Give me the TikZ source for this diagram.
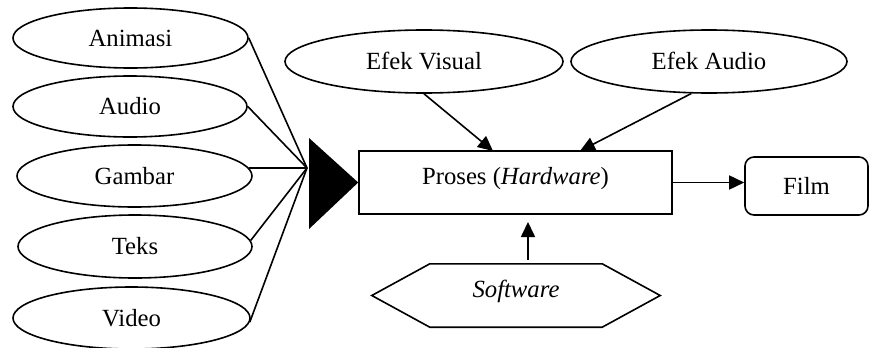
\documentclass[tikz,border=0pt]{standalone}
\usepackage{fontspec}
\setmainfont{Liberation Serif}
\usetikzlibrary{shapes.geometric,arrows.meta,calc}
\begin{document}
\begin{tikzpicture}[x=1pt,y=-1pt,
  font=\fontsize{24.7}{29}\selectfont,
  lw/.style={line width=1.6pt},
  ell/.style={ellipse,draw,lw,inner sep=0pt,text height=16.8pt,text depth=0pt},
  arr/.style={lw,-{Triangle[length=15pt,width=14pt]}},
  conn/.style={lw}
]
\useasboundingbox (0,0) rectangle (870,348);
% left ellipses
\node[ell,minimum width=235pt,minimum height=60pt] (animasi) at (130.5,38) {Animasi};
\node[ell,minimum width=234pt,minimum height=61pt] (audio) at (130,106.5) {Audio};
\node[ell,minimum width=235pt,minimum height=62pt] (gambar) at (134.5,176) {Gambar};
\node[ell,minimum width=234pt,minimum height=63pt] (teks) at (135,246.5) {Teks};
\node[ell,minimum width=237pt,minimum height=62pt] (video) at (131.5,318) {Video};
% top ellipses
\node[ell,minimum width=278pt,minimum height=63pt] (ev) at (424,61.5) {Efek Visual};
\node[ell,minimum width=276pt,minimum height=63pt] (ea) at (709,61.5) {Efek Audio};
% process box
\node[draw,lw,rectangle,inner sep=0pt,minimum width=313pt,minimum height=63pt,
      text height=16.8pt,text depth=11.9pt] (proses) at (515.5,182.5) {Proses (\textit{Hardware})};
% film
\node[draw,lw,rectangle,rounded corners=9pt,inner sep=0pt,minimum width=123pt,minimum height=58pt,
      text height=16.8pt,text depth=0pt] (film) at (806.5,186) {Film};
% software hexagon
\node[inner sep=0pt,minimum width=288pt,minimum height=63pt,
      text height=16.8pt,text depth=11.9pt] (software) at (516,295.5) {\textit{Software}};
\draw[lw,line join=miter] (software.west) -- ($(software.north west)+(58,0)$) -- ($(software.north east)+(-58,0)$)
  -- (software.east) -- ($(software.south east)+(-58,0)$) -- ($(software.south west)+(58,0)$) -- cycle;
% convergence and triangle
\coordinate (conv) at (307,168);
\coordinate (tritop) at (309,138);
\coordinate (tribot) at (309,229);
\fill (tritop) -- (proses.west) -- (tribot) -- cycle;
\draw[conn] (animasi.east) -- (conv);
\draw[conn] (audio.east) -- (conv);
\draw[conn] (gambar.4) -- (conv);
\draw[conn] (teks.3) -- (conv);
\draw[conn] (video.358) -- (conv);
% arrows
\coordinate (pv) at (493,151);
\coordinate (pa) at (580,151);
\draw[arr] (ev.south) -- (pv);
\draw[arr] (ea.241.5) -- (pa);
\coordinate (swa) at (528,260);
\coordinate (swb) at (528,222);
\draw[arr] (swa) -- (swb);
\draw[arr] (proses.east) -- (proses.east -| film.west);
\end{tikzpicture}
\end{document}
